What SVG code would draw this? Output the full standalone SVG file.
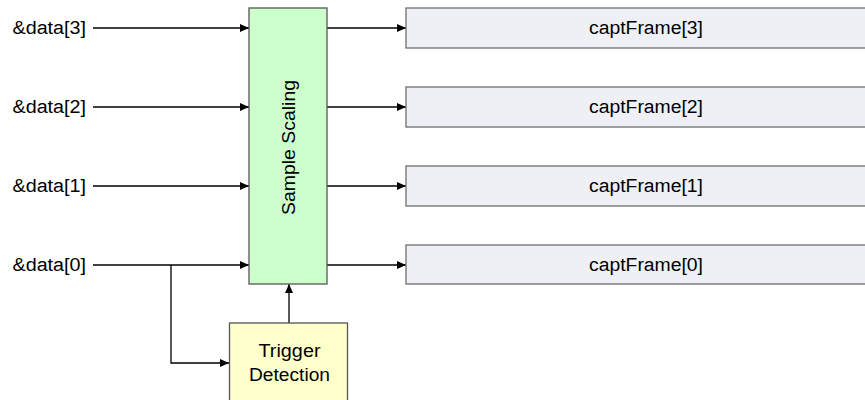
<svg xmlns="http://www.w3.org/2000/svg" width="865" height="400" viewBox="0 0 865 400">
<defs>
<marker id="ah" markerWidth="9" markerHeight="8" refX="9" refY="4" orient="auto" markerUnits="userSpaceOnUse">
<path d="M0,0 L9,4 L0,8 Z" fill="#000"/>
</marker>
<style>
text{font-family:"Liberation Sans",Arial,sans-serif;font-size:18px;fill:#000}
.c{stroke:#000;stroke-width:1.3;fill:none}
.a{marker-end:url(#ah)}
.frame{fill:#eef0f6;stroke:#6e6e6e;stroke-width:1.3}
.ss{fill:#ccffcc;stroke:#555;stroke-width:1.3}
.td{fill:#ffffcc;stroke:#555;stroke-width:1.3}
</style>
</defs>
<rect width="865" height="400" fill="#fff"/>
<g id="connectors">
<line class="c a" x1="93" y1="28" x2="249" y2="28"/>
<line class="c a" x1="93" y1="107" x2="249" y2="107"/>
<line class="c a" x1="93" y1="186" x2="249" y2="186"/>
<line class="c a" x1="93" y1="265" x2="249" y2="265"/>
<line class="c a" x1="327" y1="28" x2="406" y2="28"/>
<line class="c a" x1="327" y1="107" x2="406" y2="107"/>
<line class="c a" x1="327" y1="186" x2="406" y2="186"/>
<line class="c a" x1="327" y1="265" x2="406" y2="265"/>
<polyline class="c a" points="171,265 171,363 229,363"/>
<line class="c a" x1="289" y1="323" x2="289" y2="284"/>
</g>
<g id="inputs">
<text x="12.5" y="34" textLength="73.5" lengthAdjust="spacingAndGlyphs">&amp;data[3]</text>
<text x="12.5" y="113" textLength="73.5" lengthAdjust="spacingAndGlyphs">&amp;data[2]</text>
<text x="12.5" y="192" textLength="73.5" lengthAdjust="spacingAndGlyphs">&amp;data[1]</text>
<text x="12.5" y="271" textLength="73.5" lengthAdjust="spacingAndGlyphs">&amp;data[0]</text>
</g>
<g id="sample-scaling">
<rect class="ss" x="249" y="8" width="78" height="276"/>
<text transform="translate(294.5,147.5) rotate(-90)" text-anchor="middle" textLength="135" lengthAdjust="spacingAndGlyphs">Sample Scaling</text>
</g>
<g id="trigger-detection">
<rect class="td" x="229.5" y="323" width="118" height="90"/>
<text x="289.5" y="357" text-anchor="middle" textLength="62" lengthAdjust="spacingAndGlyphs">Trigger</text>
<text x="289.5" y="381" text-anchor="middle" textLength="81" lengthAdjust="spacingAndGlyphs">Detection</text>
</g>
<g id="captFrame3">
<rect class="frame" x="406" y="8" width="480" height="40"/>
<text x="646" y="34" text-anchor="middle" textLength="114" lengthAdjust="spacingAndGlyphs">captFrame[3]</text>
</g>
<g id="captFrame2">
<rect class="frame" x="406" y="87" width="480" height="40"/>
<text x="646" y="113" text-anchor="middle" textLength="114" lengthAdjust="spacingAndGlyphs">captFrame[2]</text>
</g>
<g id="captFrame1">
<rect class="frame" x="406" y="166" width="480" height="40"/>
<text x="646" y="192" text-anchor="middle" textLength="114" lengthAdjust="spacingAndGlyphs">captFrame[1]</text>
</g>
<g id="captFrame0">
<rect class="frame" x="406" y="245" width="480" height="39"/>
<text x="646" y="271" text-anchor="middle" textLength="114" lengthAdjust="spacingAndGlyphs">captFrame[0]</text>
</g>
</svg>
